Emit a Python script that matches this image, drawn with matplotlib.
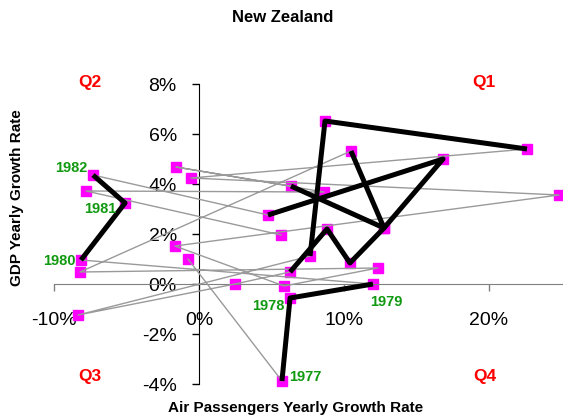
import numpy as np
import matplotlib
matplotlib.use("Agg")
import matplotlib.pyplot as plt
from matplotlib.ticker import FuncFormatter

plt.rcParams['font.family'] = ['Liberation Sans', 'DejaVu Sans']

# yearly growth rates (%), in time order
years = list(range(1976, 2007))
air_growth = [-0.76, 5.72, 6.28, 12.0, -8.14, -5.10, -7.31, 4.76, 16.83, 12.76,
              10.41, 8.83, 6.28, 2.48, -8.34, 7.66, 8.69, 22.62, -0.55, 24.83,
              -1.66, 5.86, 12.34, -8.21, 10.48, 12.76, 6.34, -1.59, 8.62, -7.79,
              5.66]
gdp_growth = [1.0, -3.88, -0.56, 0.0, 0.96, 3.24, 4.36, 2.76, 5.0, 2.24,
              0.84, 2.2, 0.48, 0.0, -1.24, 1.12, 6.52, 5.4, 4.24, 3.56,
              1.52, -0.08, 0.64, 0.48, 5.32, 2.24, 3.92, 4.68, 3.68, 3.72,
              1.96]
# years from which the next step is drawn as a thick black line
bold_from = [1977, 1978, 1980, 1981, 1983, 1984, 1985, 1986, 1987,
             1991, 1992, 2000, 2001]
labelled = [1977, 1978, 1979, 1980, 1981, 1982]

x = np.array(air_growth)
y = np.array(gdp_growth)

fig = plt.figure(figsize=(5.63, 4.19), dpi=100)
ax = fig.add_axes([54/563, 35/419, 507.5/563, 300/419])

ax.plot(x, y, 's', color='#FF00FF', ms=7.3, zorder=2, clip_on=False)
ax.plot(x, y, '-', color='#9a9a9a', lw=1.0, zorder=3)

# thick black runs
run = []
for i, yr in enumerate(years[:-1]):
    if yr in bold_from:
        if not run:
            run = [i]
        run.append(i + 1)
    else:
        if run:
            ax.plot(x[run], y[run], '-', color='black', lw=3.6,
                    solid_capstyle='butt', zorder=4)
        run = []
if run:
    ax.plot(x[run], y[run], '-', color='black', lw=3.6, zorder=4)

# year labels (offsets in points)
offsets = {1977: (5, 3, 'left'), 1978: (-4, -6, 'right'),
           1979: (-2, -13, 'left'), 1980: (-4, -1, 'right'),
           1981: (-6, -4, 'right'), 1982: (-4, 5, 'right')}
for yr in labelled:
    i = years.index(yr)
    dx, dy, ha = offsets[yr]
    ax.annotate(str(yr), (x[i], y[i]), xytext=(dx, dy),
                textcoords='offset points', ha=ha, va='center',
                color='#119911', fontsize=10.5, fontweight='bold', zorder=5)

ax.set_xlim(-10, 25)
ax.set_ylim(-4, 8)
ax.spines['left'].set_position(('data', 0))
ax.spines['bottom'].set_position(('data', 0))
ax.spines['top'].set_visible(False)
ax.spines['right'].set_visible(False)
ax.spines['bottom'].set_color('#808080')
ax.spines['left'].set_color('black')

ax.set_xticks([-10, 0, 10, 20])
ax.set_yticks([-4, -2, 0, 2, 4, 6, 8])
fmt = FuncFormatter(lambda v, p: '%d%%' % v)
ax.xaxis.set_major_formatter(fmt)
ax.yaxis.set_major_formatter(fmt)
ax.tick_params(axis='x', direction='out', length=5, width=1,
               color='#808080', pad=15.5, labelsize=14)
ax.tick_params(axis='y', direction='out', length=5, width=1,
               color='black', pad=11, labelsize=14)

# quadrant names
for name, qx, qy in [('Q1', 19.66, 8.06), ('Q2', -7.55, 8.06),
                     ('Q3', -7.55, -3.68), ('Q4', 19.7, -3.68)]:
    ax.text(qx, qy, name, color='red', fontsize=12.5, fontweight='bold',
            ha='center', va='center')

fig.text(283/563, 1 - 18/419, 'New Zealand', ha='center', va='center',
         fontsize=12, fontweight='bold')
fig.text(296/563, 1 - 408/419, 'Air Passengers Yearly Growth Rate',
         ha='center', va='center', fontsize=11, fontweight='bold')
fig.text(17/563, 1 - 198/419, 'GDP Yearly Growth Rate', rotation=90,
         ha='center', va='center', fontsize=11, fontweight='bold')

fig.savefig('out.png', dpi=100)
